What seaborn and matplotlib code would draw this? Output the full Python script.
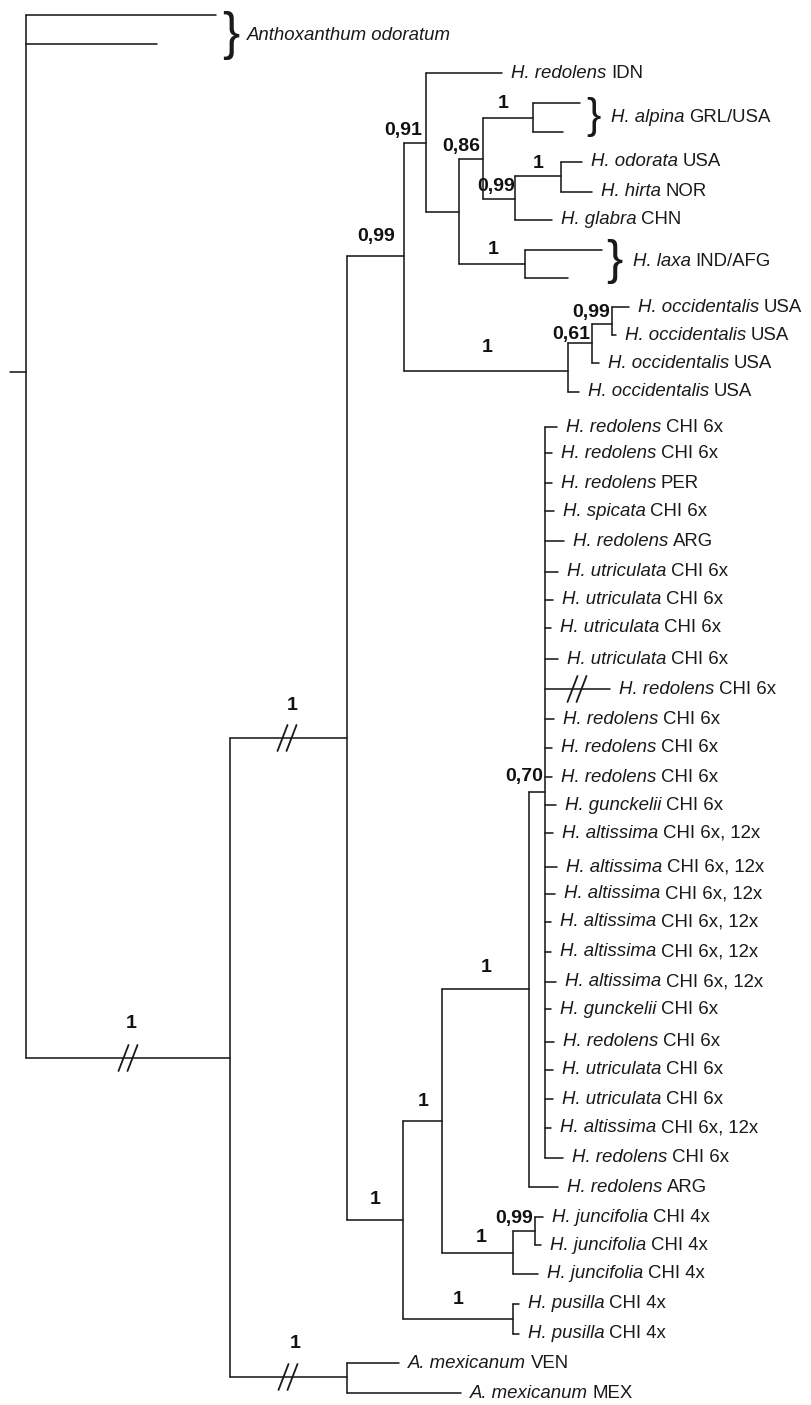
import matplotlib
matplotlib.use("Agg")
import matplotlib.pyplot as plt
import pandas as pd
import seaborn as sns

# Internal nodes: depth (x) and the row (y) where the parent branch comes in
node_name = ["root", "N1", "N2", "P", "Q", "R", "S", "alp", "in99", "oh", "lax",
             "T", "U", "V", "Y2", "Y", "X", "W", "Z", "Z2", "pus", "mex"]
node_parent = [None, "root", "N1", "N2", "P", "Q", "R", "S", "S", "in99", "R",
               "P", "T", "U", "N2", "Y2", "Y", "X", "Y", "Z", "Y2", "N1"]
node_x = [26, 230, 347, 404, 426, 459, 483, 533, 515, 561, 525,
          568, 592, 612, 403, 442, 529, 545, 513, 535, 513, 347]
node_y = [372, 1058, 738, 256, 143, 212, 159, 118, 199, 176, 264,
          371, 343, 324, 1220, 1121, 989, 792, 1253, 1231, 1319, 1377]

# Tips, top to bottom
leaf_genus = ["", "", "H. redolens", "", "", "H. odorata", "H. hirta", "H. glabra", "", "",
              "H. occidentalis", "H. occidentalis", "H. occidentalis", "H. occidentalis",
              "H. redolens", "H. redolens", "H. redolens", "H. spicata", "H. redolens",
              "H. utriculata", "H. utriculata", "H. utriculata", "H. utriculata",
              "H. redolens", "H. redolens", "H. redolens", "H. redolens", "H. gunckelii",
              "H. altissima", "H. altissima", "H. altissima", "H. altissima", "H. altissima",
              "H. altissima", "H. gunckelii", "H. redolens", "H. utriculata", "H. utriculata",
              "H. altissima", "H. redolens", "H. redolens",
              "H. juncifolia", "H. juncifolia", "H. juncifolia", "H. pusilla", "H. pusilla",
              "A. mexicanum", "A. mexicanum"]
leaf_rest = ["", "", "IDN", "", "", "USA", "NOR", "CHN", "", "",
             "USA", "USA", "USA", "USA",
             "CHI 6x", "CHI 6x", "PER", "CHI 6x", "ARG",
             "CHI 6x", "CHI 6x", "CHI 6x", "CHI 6x",
             "CHI 6x", "CHI 6x", "CHI 6x", "CHI 6x", "CHI 6x",
             "CHI 6x, 12x", "CHI 6x, 12x", "CHI 6x, 12x", "CHI 6x, 12x", "CHI 6x, 12x",
             "CHI 6x, 12x", "CHI 6x", "CHI 6x", "CHI 6x", "CHI 6x",
             "CHI 6x, 12x", "CHI 6x", "ARG",
             "CHI 4x", "CHI 4x", "CHI 4x", "CHI 4x", "CHI 4x",
             "VEN", "MEX"]
leaf_parent = ["root", "root", "Q", "alp", "alp", "oh", "oh", "in99", "lax", "lax",
               "V", "V", "U", "T"] + ["W"] * 26 + ["X", "Z2", "Z2", "Z", "pus", "pus",
                                                   "mex", "mex"]
leaf_x = [216, 157, 502, 580, 563, 582, 592, 552, 602, 568,
          629, 616, 599, 579,
          557, 552, 552, 554, 564, 558, 553, 551, 558, 610, 554, 552, 552, 556,
          553, 557, 555, 551, 551, 556, 551, 554, 553, 553, 551, 563,
          558, 543, 541, 538, 519, 519, 399, 461]
leaf_y = [15, 44, 73, 103, 132, 162, 192, 220, 250, 278,
          307, 335, 363, 392,
          427, 453, 483, 511, 541, 572, 600, 628, 659, 689, 719, 748, 777, 805,
          833, 867, 894, 922, 952, 982, 1009, 1042, 1070, 1099, 1128, 1158,
          1187, 1217, 1245, 1274, 1304, 1334, 1363, 1393]

# Bracketed groups
group_genus = ["Anthoxanthum odoratum", "H. alpina", "H. laxa"]
group_rest = ["", "GRL/USA", "IND/AFG"]
brace_x = [231, 594, 614]
brace_y = [36, 117, 261]
brace_size = [37, 31, 35]
group_text_x = [247, 611, 633]

# Posterior probabilities
support_text = ["1", "1", "1", "0,99", "0,91", "0,86", "1", "0,99", "1", "1", "1",
                "0,99", "0,61", "0,70", "1", "1", "1", "1", "0,99", "1"]
support_x = [131, 292, 295, 376, 403, 461, 503, 496, 538, 493, 487,
             591, 571, 524, 486, 423, 375, 481, 514, 458]
support_y = [1023, 706, 1343, 237, 130, 147, 103, 187, 164, 250, 348,
             313, 335, 777, 968, 1102, 1199, 1237, 1219, 1299]

# Broken branches (//)
break_x = [128, 287, 288, 577]
break_y = [1058, 738, 1377, 689]

INK = "#1a1a1a"


def build_segments():
    pos = {n: (x, y) for n, x, y in zip(node_name, node_x, node_y)}
    kids = {n: [] for n in node_name}
    rows = []
    seg = 0
    for n, p in zip(node_name, node_parent):
        if p is None:
            px = pos[n][0] - 16
        else:
            px = pos[p][0]
            kids[p].append(pos[n][1])
        rows += [(seg, px, pos[n][1]), (seg, pos[n][0], pos[n][1])]
        seg += 1
    for p, x, y in zip(leaf_parent, leaf_x, leaf_y):
        kids[p].append(y)
        rows += [(seg, pos[p][0], y), (seg, x, y)]
        seg += 1
    for n in node_name:
        ys = kids[n] + [pos[n][1]]
        rows += [(seg, pos[n][0], min(ys)), (seg, pos[n][0], max(ys))]
        seg += 1
    return pd.DataFrame(rows, columns=["seg", "x", "y"])


def taxon(ax, x, y, genus, rest, size=13.4):
    # italic name, then the plain part right after it
    t = ax.text(x, y, genus, fontsize=size, style="italic", va="center", ha="left",
                color=INK)
    if rest:
        ax.annotate(rest, xy=(1, 0.5), xycoords=t, xytext=(4.5, 0),
                    textcoords="offset pixels", fontsize=size, va="center",
                    ha="left", color=INK)


def main():
    sns.set_theme(style="white")
    plt.rcParams["font.family"] = ["Liberation Sans", "DejaVu Sans"]

    fig = plt.figure(figsize=(8.12, 14.05), dpi=100)
    ax = fig.add_axes([0, 0, 1, 1])

    df = build_segments()
    sns.lineplot(data=df, x="x", y="y", units="seg", estimator=None, sort=False,
                 color=INK, linewidth=1.15, legend=False, ax=ax)

    for g, r, x, y in zip(leaf_genus, leaf_rest, leaf_x, leaf_y):
        if g:
            taxon(ax, x + 9, y, g, r)

    for g, r, bx, by, bs, tx in zip(group_genus, group_rest, brace_x, brace_y,
                                    brace_size, group_text_x):
        ax.text(bx, by, "}", fontsize=bs, va="center", ha="center",
                family="Liberation Sans", color=INK)
        taxon(ax, tx, by, g, r)

    for t, x, y in zip(support_text, support_x, support_y):
        ax.text(x, y, t, fontsize=14, fontweight="bold", va="center", ha="center",
                color="#111111")

    for x, y in zip(break_x, break_y):
        for dx in (-4.5, 4.5):
            ax.plot([x + dx - 5, x + dx + 5], [y + 13, y - 13], color=INK, lw=1.3)

    ax.set_xlim(0, 812)
    ax.set_ylim(1405, 0)
    ax.axis("off")
    fig.savefig("out.png", dpi=100, facecolor="white")
    plt.close(fig)


if __name__ == "__main__":
    main()
